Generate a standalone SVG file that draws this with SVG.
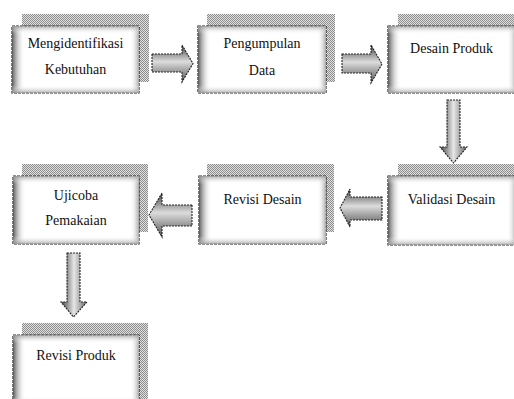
<svg xmlns="http://www.w3.org/2000/svg" width="514" height="399" viewBox="0 0 514 399">
<defs>
<pattern id="mesh" width="2" height="2" patternUnits="userSpaceOnUse">
<rect width="2" height="2" fill="#e2e2e2"/>
<rect width="1" height="1" fill="#8c8c8c"/>
<rect x="1" y="1" width="1" height="1" fill="#8c8c8c"/>
</pattern>
<linearGradient id="gh" x1="0" y1="0" x2="1" y2="0">
<stop offset="0" stop-color="#5a5a5a"/>
<stop offset="0.1" stop-color="#ffffff" stop-opacity="0"/>
<stop offset="0.93" stop-color="#ffffff" stop-opacity="0"/>
<stop offset="1" stop-color="#aaaaaa"/>
</linearGradient>
<linearGradient id="gv" x1="0" y1="0" x2="0" y2="1">
<stop offset="0" stop-color="#999" stop-opacity="0.8"/>
<stop offset="0.12" stop-color="#ffffff" stop-opacity="0"/>
<stop offset="0.88" stop-color="#ffffff" stop-opacity="0"/>
<stop offset="1" stop-color="#999" stop-opacity="0.8"/>
</linearGradient>
<linearGradient id="ah" x1="0" y1="0" x2="0" y2="1">
<stop offset="0" stop-color="#444"/>
<stop offset="0.45" stop-color="#dcdcdc"/>
<stop offset="1" stop-color="#555"/>
</linearGradient>
<linearGradient id="av" x1="0" y1="0" x2="1" y2="0">
<stop offset="0" stop-color="#444"/>
<stop offset="0.5" stop-color="#e6e6e6"/>
<stop offset="1" stop-color="#666"/>
</linearGradient>
<style>
.sh{fill:url(#mesh);}
.bx{fill:#fff;stroke:#222;stroke-width:1.2;stroke-dasharray:3 1;}
.g1{fill:url(#gh);}
.g2{fill:url(#gv);}
.t{font-family:'Liberation Serif','Times New Roman',serif;font-size:14px;fill:#111;text-anchor:middle;}
.ar{stroke:#222;stroke-width:1.1;stroke-dasharray:2 1;}
.arh{fill:url(#ah);}
.arv{fill:url(#av);}
</style>
</defs>

<g id="node-mengidentifikasi">
<rect class="sh" x="22" y="14" width="127" height="68"/>
<rect class="bx" x="12" y="26" width="127" height="67"/>
<rect class="g1" x="12" y="26" width="127" height="67"/>
<rect class="g2" x="12" y="26" width="127" height="67"/>
<text class="t" x="75.5" y="48">Mengidentifikasi</text>
<text class="t" x="75.5" y="74">Kebutuhan</text>
</g>

<g id="node-pengumpulan">
<rect class="sh" x="207" y="14" width="128" height="68"/>
<rect class="bx" x="198" y="26" width="128" height="67"/>
<rect class="g1" x="198" y="26" width="128" height="67"/>
<rect class="g2" x="198" y="26" width="128" height="67"/>
<text class="t" x="262" y="48">Pengumpulan</text>
<text class="t" x="262" y="75">Data</text>
</g>

<g id="node-desain-produk">
<rect class="sh" x="398" y="14" width="128" height="68"/>
<rect class="bx" x="388" y="26" width="128" height="67"/>
<rect class="g1" x="388" y="26" width="128" height="67"/>
<rect class="g2" x="388" y="26" width="128" height="67"/>
<text class="t" x="451.5" y="53">Desain Produk</text>
</g>

<g id="node-validasi-desain">
<rect class="sh" x="398" y="164" width="128" height="69"/>
<rect class="bx" x="388" y="176" width="128" height="69"/>
<rect class="g1" x="388" y="176" width="128" height="69"/>
<rect class="g2" x="388" y="176" width="128" height="69"/>
<text class="t" x="451.5" y="204">Validasi Desain</text>
</g>

<g id="node-revisi-desain">
<rect class="sh" x="207" y="164" width="127" height="68"/>
<rect class="bx" x="199" y="176" width="127" height="68"/>
<rect class="g1" x="199" y="176" width="127" height="68"/>
<rect class="g2" x="199" y="176" width="127" height="68"/>
<text class="t" x="262.5" y="204">Revisi Desain</text>
</g>

<g id="node-ujicoba">
<rect class="sh" x="22" y="164" width="126" height="68"/>
<rect class="bx" x="13" y="176" width="126" height="68"/>
<rect class="g1" x="13" y="176" width="126" height="68"/>
<rect class="g2" x="13" y="176" width="126" height="68"/>
<text class="t" x="76" y="200">Ujicoba</text>
<text class="t" x="76" y="225">Pemakaian</text>
</g>

<g id="node-revisi-produk">
<rect class="sh" x="22" y="323" width="126" height="80"/>
<rect class="bx" x="13" y="335" width="126" height="70"/>
<rect class="g1" x="13" y="335" width="126" height="70"/>
<rect class="g2" x="13" y="335" width="126" height="70"/>
<text class="t" x="76" y="360">Revisi Produk</text>
</g>

<g id="connectors">
<path class="ar arh" d="M152,54 H182 V45 L193,63.5 L182,82 V72 H152 Z"/>
<path class="ar arh" d="M342,54 H371 V45 L382,64 L371,83 V73 H342 Z"/>
<path class="ar arv" d="M447,100 H460 V147 H467 L453.5,163 L440,147 H447 Z"/>
<path class="ar arh" d="M382,197 H350 V189 L340,208 L350,227 V220 H382 Z"/>
<path class="ar arh" d="M192,205 H162 V193 L149,215 L162,237 V226 H192 Z"/>
<path class="ar arv" d="M67,253 H80 V302 H87 L73.5,317 L61,302 H67 Z"/>
</g>
</svg>
